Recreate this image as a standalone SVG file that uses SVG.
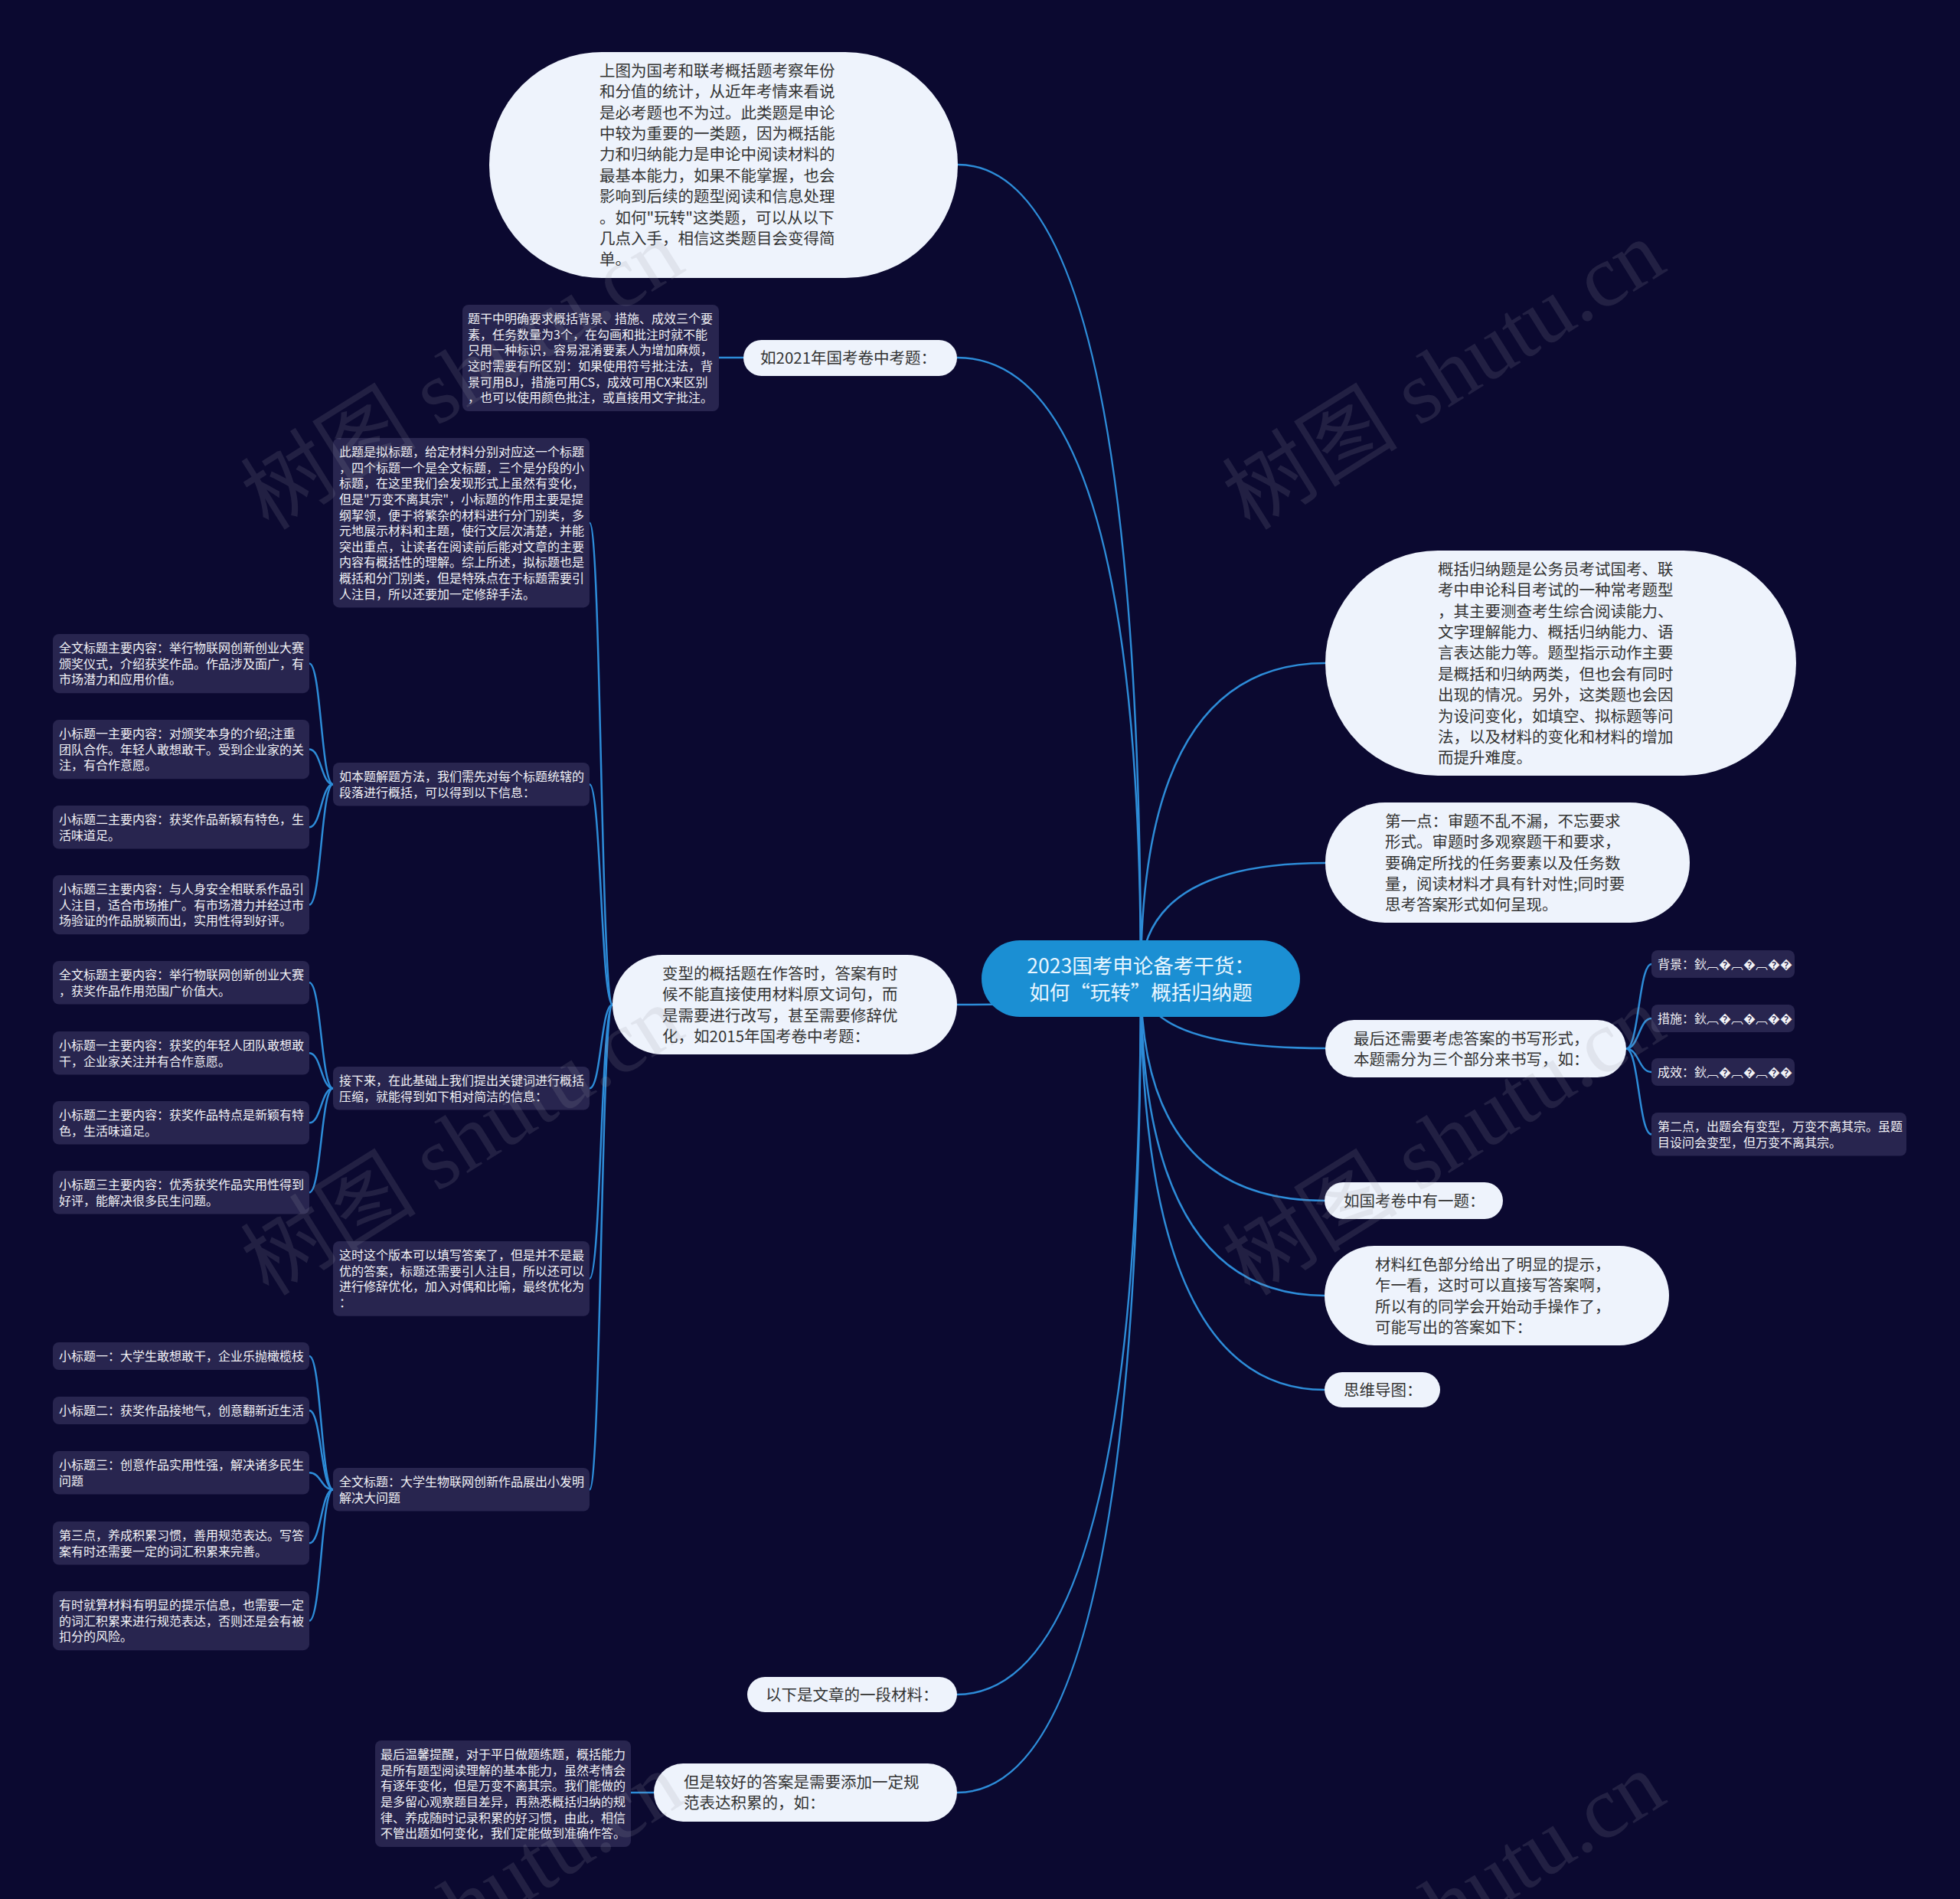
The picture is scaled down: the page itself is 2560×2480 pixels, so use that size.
<svg xmlns="http://www.w3.org/2000/svg" width="2560" height="2480" viewBox="0 0 2560 2480">
<style>
.bg{fill:#0b0930}
.ln{fill:none;stroke:#2d8cd8;stroke-width:2.5}
.lt{fill:#eef3fc}
.nt{fill:#28254f}
.tl{font-family:"Noto Sans CJK SC","Liberation Sans",sans-serif;font-size:20.5px;fill:#333333}
.tn{font-family:"Noto Sans CJK SC","Liberation Sans",sans-serif;font-size:16px;fill:#f2f2f6}
.tc{font-family:"Noto Sans CJK SC","Liberation Sans",sans-serif;font-size:26.5px;fill:#e8f6ff;text-anchor:middle}
.wm{font-family:"Liberation Serif","Noto Sans CJK SC",serif;font-size:115px;fill:#9a9aa6;opacity:0.16}
</style>
<rect class="bg" x="0" y="0" width="2560" height="2480"/>

<g id="connectors">
<path class="ln" d="M1490 1278 Q1490 215 1251 215"/>
<path class="ln" d="M1490 1278 Q1490 467 1250 467"/>
<path class="ln" d="M1490 1278 Q1490 1312 1250 1312"/>
<path class="ln" d="M1490 1278 Q1490 2213 1249 2213"/>
<path class="ln" d="M1490 1278 Q1490 2341 1250 2341"/>
<path class="ln" d="M1490 1278 Q1490 866 1731 866"/>
<path class="ln" d="M1490 1278 Q1490 1127 1731 1127"/>
<path class="ln" d="M1490 1278 Q1490 1369 1731 1369"/>
<path class="ln" d="M1490 1278 Q1490 1568 1730 1568"/>
<path class="ln" d="M1490 1278 Q1490 1692 1730 1692"/>
<path class="ln" d="M1490 1278 Q1490 1815 1730 1815"/>
<path class="ln" d="M939 467 L971 467"/>
<path class="ln" d="M824 2341 L854 2341"/>
<path class="ln" d="M800 1312 C785 1312 785 682.7 770 682.7"/>
<path class="ln" d="M800 1312 C785 1312 785 1024.3 770 1024.3"/>
<path class="ln" d="M800 1312 C785 1312 785 1421.3 770 1421.3"/>
<path class="ln" d="M800 1312 C785 1312 785 1669.9 770 1669.9"/>
<path class="ln" d="M800 1312 C785 1312 785 1945.3 770 1945.3"/>
<path class="ln" d="M435 1024.3 C419.5 1024.3 419.5 866.6 404 866.6"/>
<path class="ln" d="M435 1024.3 C419.5 1024.3 419.5 978.6 404 978.6"/>
<path class="ln" d="M435 1024.3 C419.5 1024.3 419.5 1080.3 404 1080.3"/>
<path class="ln" d="M435 1024.3 C419.5 1024.3 419.5 1181.6 404 1181.6"/>
<path class="ln" d="M435 1421.3 C419.5 1421.3 419.5 1283.3 404 1283.3"/>
<path class="ln" d="M435 1421.3 C419.5 1421.3 419.5 1375.3 404 1375.3"/>
<path class="ln" d="M435 1421.3 C419.5 1421.3 419.5 1466.3 404 1466.3"/>
<path class="ln" d="M435 1421.3 C419.5 1421.3 419.5 1557.3 404 1557.3"/>
<path class="ln" d="M435 1945.3 C419.5 1945.3 419.5 1771 404 1771"/>
<path class="ln" d="M435 1945.3 C419.5 1945.3 419.5 1842 404 1842"/>
<path class="ln" d="M435 1945.3 C419.5 1945.3 419.5 1923.3 404 1923.3"/>
<path class="ln" d="M435 1945.3 C419.5 1945.3 419.5 2015.3 404 2015.3"/>
<path class="ln" d="M435 1945.3 C419.5 1945.3 419.5 2116.6 404 2116.6"/>
<path class="ln" d="M2124 1369.5 C2140.5 1369.5 2140.5 1259 2157 1259"/>
<path class="ln" d="M2124 1369.5 C2140.5 1369.5 2140.5 1330 2157 1330"/>
<path class="ln" d="M2124 1369.5 C2140.5 1369.5 2140.5 1400 2157 1400"/>
<path class="ln" d="M2124 1369.5 C2140.5 1369.5 2140.5 1481.3 2157 1481.3"/>
</g>

<g id="center">
<rect x="1282" y="1228" width="416" height="100" rx="50" fill="#1b8fd3"/>
<text class="tc" x="1490" y="1271">2023国考申论备考干货：</text>
<text class="tc" x="1490" y="1306">如何“玩转”概括归纳题</text>
</g>

<g id="n-top">
<rect class="lt" x="639" y="68" width="612" height="295" rx="147"/>
<text class="tl" x="783" y="99.8"><tspan x="783">上图为国考和联考概括题考察年份</tspan><tspan x="783" dy="27.4">和分值的统计，从近年考情来看说</tspan><tspan x="783" dy="27.4">是必考题也不为过。此类题是申论</tspan><tspan x="783" dy="27.4">中较为重要的一类题，因为概括能</tspan><tspan x="783" dy="27.4">力和归纳能力是申论中阅读材料的</tspan><tspan x="783" dy="27.4">最基本能力，如果不能掌握，也会</tspan><tspan x="783" dy="27.4">影响到后续的题型阅读和信息处理</tspan><tspan x="783" dy="27.4">。如何"玩转"这类题，可以从以下</tspan><tspan x="783" dy="27.4">几点入手，相信这类题目会变得简</tspan><tspan x="783" dy="27.4">单。</tspan></text>
</g>

<g id="n-2021">
<rect class="lt" x="971" y="444" width="279" height="47" rx="23.5"/>
<text class="tl" x="993" y="475.3">如2021年国考卷中考题：</text>
</g>
<g id="n-2021-note">
<rect class="nt" x="604" y="398" width="335" height="139" rx="8"/>
<text class="tn" x="611" y="422.1"><tspan x="611">题干中明确要求概括背景、措施、成效三个要</tspan><tspan x="611" dy="20.6">素，任务数量为3个，在勾画和批注时就不能</tspan><tspan x="611" dy="20.6">只用一种标识，容易混淆要素人为增加麻烦，</tspan><tspan x="611" dy="20.6">这时需要有所区别：如果使用符号批注法，背</tspan><tspan x="611" dy="20.6">景可用BJ，措施可用CS，成效可用CX来区别</tspan><tspan x="611" dy="20.6">，也可以使用颜色批注，或直接用文字批注。</tspan></text>
</g>

<g id="n-bianxing">
<rect class="lt" x="800" y="1247" width="450" height="130" rx="65"/>
<text class="tl" x="865" y="1278.8"><tspan x="865">变型的概括题在作答时，答案有时</tspan><tspan x="865" dy="27.4">候不能直接使用材料原文词句，而</tspan><tspan x="865" dy="27.4">是需要进行改写，甚至需要修辞优</tspan><tspan x="865" dy="27.4">化，如2015年国考卷中考题：</tspan></text>
</g>

<g id="n-a">
<rect class="nt" x="435" y="572" width="335" height="221.4" rx="8"/>
<text class="tn" x="443" y="596.1"><tspan x="443">此题是拟标题，给定材料分别对应这一个标题</tspan><tspan x="443" dy="20.6">，四个标题一个是全文标题，三个是分段的小</tspan><tspan x="443" dy="20.6">标题，在这里我们会发现形式上虽然有变化，</tspan><tspan x="443" dy="20.6">但是"万变不离其宗"，小标题的作用主要是提</tspan><tspan x="443" dy="20.6">纲挈领，便于将繁杂的材料进行分门别类，多</tspan><tspan x="443" dy="20.6">元地展示材料和主题，使行文层次清楚，并能</tspan><tspan x="443" dy="20.6">突出重点，让读者在阅读前后能对文章的主要</tspan><tspan x="443" dy="20.6">内容有概括性的理解。综上所述，拟标题也是</tspan><tspan x="443" dy="20.6">概括和分门别类，但是特殊点在于标题需要引</tspan><tspan x="443" dy="20.6">人注目，所以还要加一定修辞手法。</tspan></text>
</g>

<g id="n-b">
<rect class="nt" x="435" y="996" width="335" height="56.6" rx="8"/>
<text class="tn" x="443" y="1020.1"><tspan x="443">如本题解题方法，我们需先对每个标题统辖的</tspan><tspan x="443" dy="20.6">段落进行概括，可以得到以下信息：</tspan></text>
</g>
<g id="n-b1">
<rect class="nt" x="69" y="828" width="335" height="77.2" rx="8"/>
<text class="tn" x="77" y="852.1"><tspan x="77">全文标题主要内容：举行物联网创新创业大赛</tspan><tspan x="77" dy="20.6">颁奖仪式，介绍获奖作品。作品涉及面广，有</tspan><tspan x="77" dy="20.6">市场潜力和应用价值。</tspan></text>
</g>
<g id="n-b2">
<rect class="nt" x="69" y="940" width="335" height="77.2" rx="8"/>
<text class="tn" x="77" y="964.1"><tspan x="77">小标题一主要内容：对颁奖本身的介绍;注重</tspan><tspan x="77" dy="20.6">团队合作。年轻人敢想敢干。受到企业家的关</tspan><tspan x="77" dy="20.6">注，有合作意愿。</tspan></text>
</g>
<g id="n-b3">
<rect class="nt" x="69" y="1052" width="335" height="56.6" rx="8"/>
<text class="tn" x="77" y="1076.1"><tspan x="77">小标题二主要内容：获奖作品新颖有特色，生</tspan><tspan x="77" dy="20.6">活味道足。</tspan></text>
</g>
<g id="n-b4">
<rect class="nt" x="69" y="1143" width="335" height="77.2" rx="8"/>
<text class="tn" x="77" y="1167.1"><tspan x="77">小标题三主要内容：与人身安全相联系作品引</tspan><tspan x="77" dy="20.6">人注目，适合市场推广。有市场潜力并经过市</tspan><tspan x="77" dy="20.6">场验证的作品脱颖而出，实用性得到好评。</tspan></text>
</g>

<g id="n-c">
<rect class="nt" x="435" y="1393" width="335" height="56.6" rx="8"/>
<text class="tn" x="443" y="1417.1"><tspan x="443">接下来，在此基础上我们提出关键词进行概括</tspan><tspan x="443" dy="20.6">压缩，就能得到如下相对简洁的信息：</tspan></text>
</g>
<g id="n-c1">
<rect class="nt" x="69" y="1255" width="335" height="56.6" rx="8"/>
<text class="tn" x="77" y="1279.1"><tspan x="77">全文标题主要内容：举行物联网创新创业大赛</tspan><tspan x="77" dy="20.6">，获奖作品作用范围广价值大。</tspan></text>
</g>
<g id="n-c2">
<rect class="nt" x="69" y="1347" width="335" height="56.6" rx="8"/>
<text class="tn" x="77" y="1371.1"><tspan x="77">小标题一主要内容：获奖的年轻人团队敢想敢</tspan><tspan x="77" dy="20.6">干，企业家关注并有合作意愿。</tspan></text>
</g>
<g id="n-c3">
<rect class="nt" x="69" y="1438" width="335" height="56.6" rx="8"/>
<text class="tn" x="77" y="1462.1"><tspan x="77">小标题二主要内容：获奖作品特点是新颖有特</tspan><tspan x="77" dy="20.6">色，生活味道足。</tspan></text>
</g>
<g id="n-c4">
<rect class="nt" x="69" y="1529" width="335" height="56.6" rx="8"/>
<text class="tn" x="77" y="1553.1"><tspan x="77">小标题三主要内容：优秀获奖作品实用性得到</tspan><tspan x="77" dy="20.6">好评，能解决很多民生问题。</tspan></text>
</g>

<g id="n-d">
<rect class="nt" x="435" y="1621" width="335" height="97.8" rx="8"/>
<text class="tn" x="443" y="1645.1"><tspan x="443">这时这个版本可以填写答案了，但是并不是最</tspan><tspan x="443" dy="20.6">优的答案，标题还需要引人注目，所以还可以</tspan><tspan x="443" dy="20.6">进行修辞优化，加入对偶和比喻，最终优化为</tspan><tspan x="443" dy="20.6">：</tspan></text>
</g>

<g id="n-e">
<rect class="nt" x="435" y="1917" width="335" height="56.6" rx="8"/>
<text class="tn" x="443" y="1941.1"><tspan x="443">全文标题：大学生物联网创新作品展出小发明</tspan><tspan x="443" dy="20.6">解决大问题</tspan></text>
</g>
<g id="n-e1">
<rect class="nt" x="69" y="1753" width="335" height="36" rx="8"/>
<text class="tn" x="77" y="1777.1">小标题一：大学生敢想敢干，企业乐抛橄榄枝</text>
</g>
<g id="n-e2">
<rect class="nt" x="69" y="1824" width="335" height="36" rx="8"/>
<text class="tn" x="77" y="1848.1">小标题二：获奖作品接地气，创意翻新近生活</text>
</g>
<g id="n-e3">
<rect class="nt" x="69" y="1895" width="335" height="56.6" rx="8"/>
<text class="tn" x="77" y="1919.1"><tspan x="77">小标题三：创意作品实用性强，解决诸多民生</tspan><tspan x="77" dy="20.6">问题</tspan></text>
</g>
<g id="n-e4">
<rect class="nt" x="69" y="1987" width="335" height="56.6" rx="8"/>
<text class="tn" x="77" y="2011.1"><tspan x="77">第三点，养成积累习惯，善用规范表达。写答</tspan><tspan x="77" dy="20.6">案有时还需要一定的词汇积累来完善。</tspan></text>
</g>
<g id="n-e5">
<rect class="nt" x="69" y="2078" width="335" height="77.2" rx="8"/>
<text class="tn" x="77" y="2102.1"><tspan x="77">有时就算材料有明显的提示信息，也需要一定</tspan><tspan x="77" dy="20.6">的词汇积累来进行规范表达，否则还是会有被</tspan><tspan x="77" dy="20.6">扣分的风险。</tspan></text>
</g>

<g id="n-material">
<rect class="lt" x="976" y="2190" width="274" height="46" rx="23"/>
<text class="tl" x="1000" y="2221.3">以下是文章的一段材料：</text>
</g>
<g id="n-better">
<rect class="lt" x="854" y="2303" width="396" height="76" rx="38"/>
<text class="tl" x="893" y="2334.8"><tspan x="893">但是较好的答案是需要添加一定规</tspan><tspan x="893" dy="27.4">范表达积累的，如：</tspan></text>
</g>
<g id="n-better-note">
<rect class="nt" x="490" y="2273" width="334" height="139" rx="8"/>
<text class="tn" x="497" y="2297.1"><tspan x="497">最后温馨提醒，对于平日做题练题，概括能力</tspan><tspan x="497" dy="20.6">是所有题型阅读理解的基本能力，虽然考情会</tspan><tspan x="497" dy="20.6">有逐年变化，但是万变不离其宗。我们能做的</tspan><tspan x="497" dy="20.6">是多留心观察题目差异，再熟悉概括归纳的规</tspan><tspan x="497" dy="20.6">律、养成随时记录积累的好习惯，由此，相信</tspan><tspan x="497" dy="20.6">不管出题如何变化，我们定能做到准确作答。</tspan></text>
</g>

<g id="n-r1">
<rect class="lt" x="1731" y="719" width="615" height="294" rx="147"/>
<text class="tl" x="1878" y="750.8"><tspan x="1878">概括归纳题是公务员考试国考、联</tspan><tspan x="1878" dy="27.4">考中申论科目考试的一种常考题型</tspan><tspan x="1878" dy="27.4">，其主要测查考生综合阅读能力、</tspan><tspan x="1878" dy="27.4">文字理解能力、概括归纳能力、语</tspan><tspan x="1878" dy="27.4">言表达能力等。题型指示动作主要</tspan><tspan x="1878" dy="27.4">是概括和归纳两类，但也会有同时</tspan><tspan x="1878" dy="27.4">出现的情况。另外，这类题也会因</tspan><tspan x="1878" dy="27.4">为设问变化，如填空、拟标题等问</tspan><tspan x="1878" dy="27.4">法，以及材料的变化和材料的增加</tspan><tspan x="1878" dy="27.4">而提升难度。</tspan></text>
</g>

<g id="n-r2">
<rect class="lt" x="1731" y="1048" width="476" height="157" rx="78"/>
<text class="tl" x="1809" y="1079.8"><tspan x="1809">第一点：审题不乱不漏，不忘要求</tspan><tspan x="1809" dy="27.4">形式。审题时多观察题干和要求，</tspan><tspan x="1809" dy="27.4">要确定所找的任务要素以及任务数</tspan><tspan x="1809" dy="27.4">量，阅读材料才具有针对性;同时要</tspan><tspan x="1809" dy="27.4">思考答案形式如何呈现。</tspan></text>
</g>

<g id="n-r3">
<rect class="lt" x="1731" y="1332" width="393" height="75" rx="37.5"/>
<text class="tl" x="1768" y="1363.8"><tspan x="1768">最后还需要考虑答案的书写形式，</tspan><tspan x="1768" dy="27.4">本题需分为三个部分来书写，如：</tspan></text>
</g>
<g id="n-r3a">
<rect class="nt" x="2157" y="1241" width="187" height="36" rx="8"/>
<text class="tn" x="2165" y="1265.1">背景：鈥︹�︹�︹��</text>
</g>
<g id="n-r3b">
<rect class="nt" x="2157" y="1312" width="187" height="36" rx="8"/>
<text class="tn" x="2165" y="1336.1">措施：鈥︹�︹�︹��</text>
</g>
<g id="n-r3c">
<rect class="nt" x="2157" y="1382" width="187" height="36" rx="8"/>
<text class="tn" x="2165" y="1406.1">成效：鈥︹�︹�︹��</text>
</g>
<g id="n-r3d">
<rect class="nt" x="2157" y="1453" width="333" height="56.6" rx="8"/>
<text class="tn" x="2165" y="1477.1"><tspan x="2165">第二点，出题会有变型，万变不离其宗。虽题</tspan><tspan x="2165" dy="20.6">目设问会变型，但万变不离其宗。</tspan></text>
</g>

<g id="n-r4">
<rect class="lt" x="1730" y="1544" width="233" height="48" rx="24"/>
<text class="tl" x="1755" y="1575.8">如国考卷中有一题：</text>
</g>
<g id="n-r5">
<rect class="lt" x="1730" y="1627" width="450" height="130" rx="65"/>
<text class="tl" x="1796" y="1658.8"><tspan x="1796">材料红色部分给出了明显的提示，</tspan><tspan x="1796" dy="27.4">乍一看，这时可以直接写答案啊，</tspan><tspan x="1796" dy="27.4">所以有的同学会开始动手操作了，</tspan><tspan x="1796" dy="27.4">可能写出的答案如下：</tspan></text>
</g>
<g id="n-r6">
<rect class="lt" x="1730" y="1792" width="151" height="46" rx="23"/>
<text class="tl" x="1755" y="1823.3">思维导图：</text>
</g>

<g id="watermark">
<text class="wm" transform="translate(351 694) rotate(-32)">树图 shutu.cn</text>
<text class="wm" transform="translate(1633 694) rotate(-32)">树图 shutu.cn</text>
<text class="wm" transform="translate(351 1694) rotate(-32)">树图 shutu.cn</text>
<text class="wm" transform="translate(1633 1694) rotate(-32)">树图 shutu.cn</text>
<text class="wm" transform="translate(351 2694) rotate(-32)">树图 shutu.cn</text>
<text class="wm" transform="translate(1633 2694) rotate(-32)">树图 shutu.cn</text>
</g>
</svg>
